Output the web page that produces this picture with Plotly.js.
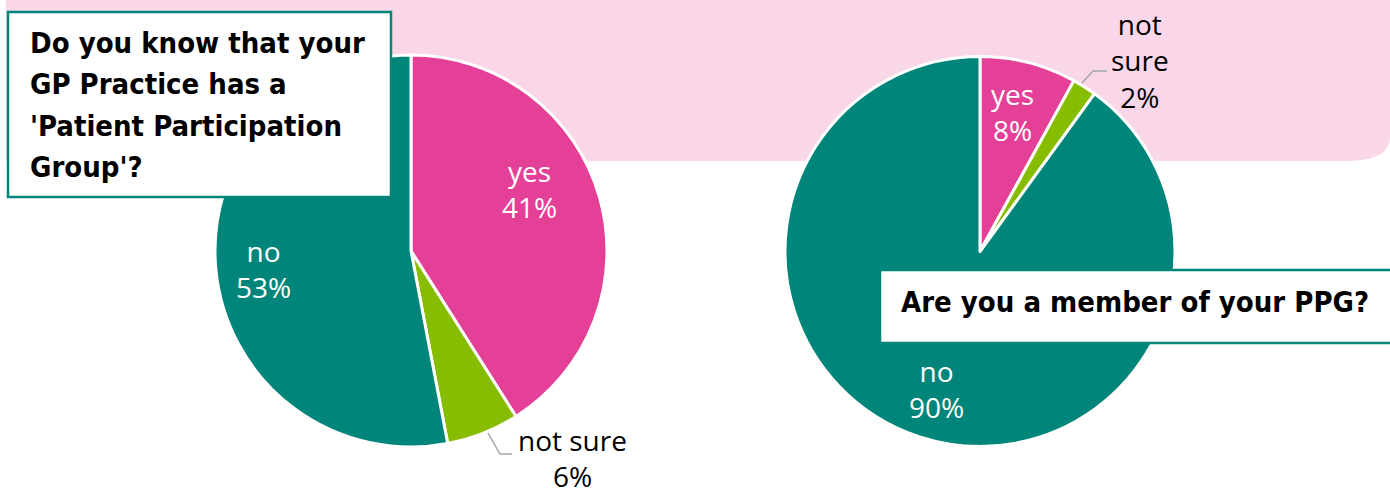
<!DOCTYPE html>
<html>
<head>
<meta charset="utf-8">
<script src="https://cdn.plot.ly/plotly-3.0.1.min.js"></script>
<style>html,body{margin:0;padding:0;background:#fff;}#chart{width:1390px;height:494px;}</style>
</head>
<body>
<div id="chart"></div>
<script>
// ---- data ----
const categories = ["yes", "not sure", "no"];
const knowPPG = [41, 6, 53];
const memberPPG = [8, 2, 90];
const knowDisplay = ["yes", "not sure", "no"];
const memberDisplay = ["yes", "not<br>sure", "no"];
const title1Lines = ["Do you know that your", "GP Practice has a", "'Patient Participation", "Group'?"];
const title2 = "Are you a member of your PPG?";

// ---- style / layout ----
const W = 1390, H = 494;
const px = x => x / W;
const py = y => 1 - y / H;
const TEAL = "#00857A", PINK = "#E54097", GREEN = "#86BD00", BG = "#F9D7E8";
const colors = [PINK, GREEN, TEAL];
const labelFont = "Open Sans, Noto Sans, sans-serif";

// label placement (pixel centres) and whether label sits inside the slice
const knowLabelPos = [[529, 189, true], [572, 458, false], [263, 269, true]];
const memberLabelPos = [[1012, 112, true], [1140, 60, false], [936, 389, true]];

function pieTrace(values, domain) {
  return {
    type: "pie",
    labels: categories,
    values: values,
    textinfo: "none",
    hoverinfo: "label+percent",
    sort: false,
    direction: "clockwise",
    rotation: 0,
    domain: domain,
    marker: { colors: colors, line: { color: "#ffffff", width: 3 } },
    showlegend: false
  };
}

const traces = [
  pieTrace(knowPPG, { x: [px(215), px(607)], y: [py(447), py(55)] }),
  pieTrace(memberPPG, { x: [px(785), px(1175)], y: [py(447), py(56)] })
];

// pink banner with rounded bottom-right corner
const bx0 = px(6), bxr = 1, byb = py(161), rx = px(45), ry = 24 / H;
const bannerPath = `M ${bx0},1 L ${bxr},1 L ${bxr},${byb + ry} Q ${bxr},${byb} ${bxr - rx},${byb} L ${bx0},${byb} Z`;

const leader = pts => "M " + pts.map(p => px(p[0]) + "," + py(p[1])).join(" L ");

const shapes = [
  { type: "path", xref: "paper", yref: "paper", path: bannerPath, fillcolor: BG, line: { width: 0 }, layer: "below" },
  { type: "path", xref: "paper", yref: "paper", path: leader([[488, 433], [500, 454], [512, 454]]),
    line: { color: "#A6A6A6", width: 1.5 }, layer: "above" },
  { type: "path", xref: "paper", yref: "paper", path: leader([[1082, 83], [1093, 71], [1107, 71]]),
    line: { color: "#A6A6A6", width: 1.5 }, layer: "above" },
  { type: "rect", xref: "paper", yref: "paper", x0: px(8), x1: px(391), y0: py(12), y1: py(197),
    fillcolor: "#ffffff", line: { color: TEAL, width: 2.5 }, layer: "above" },
  { type: "rect", xref: "paper", yref: "paper", x0: px(880), x1: px(1400), y0: py(270), y1: py(343),
    fillcolor: "#ffffff", line: { color: TEAL, width: 2.5 }, layer: "above" }
];

const titleFont = { family: "DejaVu Sans Condensed, DejaVu Sans, sans-serif", size: 29, color: "#000000", weight: "bold" };
const annotations = [];

function addLabels(values, display, pos) {
  values.forEach((v, i) => {
    const p = pos[i];
    annotations.push({
      xref: "paper", yref: "paper", x: px(p[0]), y: py(p[1]),
      xanchor: "center", yanchor: "middle", showarrow: false, align: "center",
      text: display[i] + "<br>" + v + "%",
      font: { family: labelFont, size: 28, color: p[2] ? "#ffffff" : "#000000" }
    });
  });
}
addLabels(knowPPG, knowDisplay, knowLabelPos);
addLabels(memberPPG, memberDisplay, memberLabelPos);

title1Lines.forEach((t, i) => annotations.push({
  xref: "paper", yref: "paper", x: px(28), y: py(43 + i * 41.5),
  xanchor: "left", yanchor: "middle", showarrow: false,
  text: "<b>" + t + "</b>", font: titleFont
}));
annotations.push({
  xref: "paper", yref: "paper", x: px(899), y: py(302),
  xanchor: "left", yanchor: "middle", showarrow: false,
  text: "<b>" + title2 + "</b>", font: titleFont
});

const layout = {
  width: W, height: H,
  margin: { l: 0, r: 0, t: 0, b: 0, pad: 0 },
  paper_bgcolor: "#ffffff",
  plot_bgcolor: "#ffffff",
  showlegend: false,
  shapes: shapes,
  annotations: annotations
};

Plotly.newPlot("chart", traces, layout, { displayModeBar: false, staticPlot: true });
</script>
</body>
</html>
